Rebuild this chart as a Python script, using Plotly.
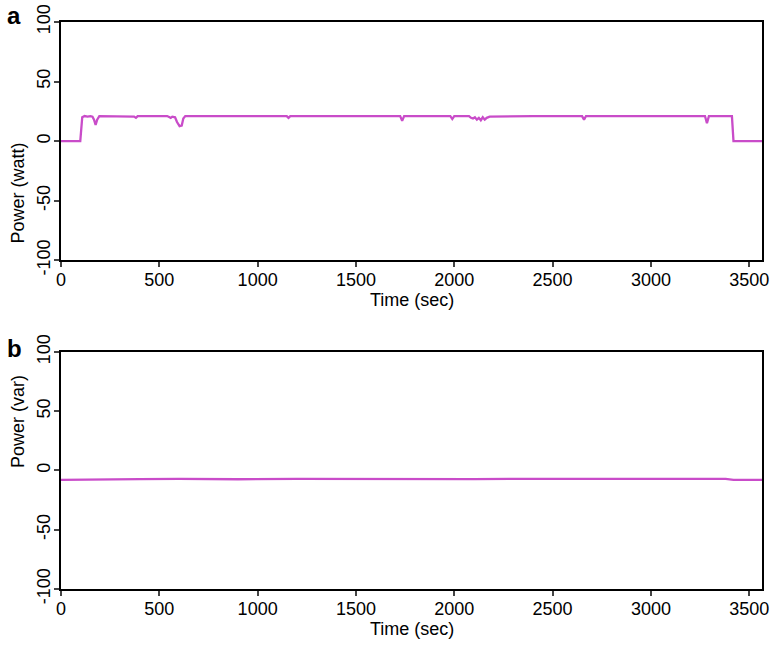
import plotly.graph_objects as go

# Panel a: active power (watt)
time_a = [0, 98, 108, 120, 135, 150, 160, 168, 176, 184, 195, 300, 372, 381, 390,
          540, 550, 558, 566, 580, 590, 603, 614, 622, 632, 800, 1000, 1148, 1157, 1166,
          1400, 1725, 1735, 1745, 1980, 1990, 2000, 2075, 2085, 2095, 2105, 2115, 2125,
          2135, 2145, 2155, 2165, 2180, 2400, 2650, 2660, 2670, 3000, 3275, 3285, 3295,
          3412, 3420, 3565]
power_a = [0, 0, 20, 21, 20.5, 21, 20.5, 18, 13.5, 18, 21, 21, 20.5, 19.5, 21,
           21, 20, 19.5, 20.5, 20, 16, 12.5, 13, 19, 21, 21, 21, 21, 19.5, 21,
           21, 21, 17, 21, 21, 18.5, 21, 21, 19.5, 19, 20, 18, 19.5,
           17.5, 20, 18, 19.5, 20.5, 21, 21, 18, 21, 21, 21, 15, 21,
           21, 0, 0]

# Panel b: reactive power (var)
time_b = [0, 60, 150, 400, 600, 900, 1200, 1500, 1800, 2100, 2400, 2700, 3000, 3300, 3380, 3420, 3565]
power_b = [-8, -7.8, -7.4, -7.2, -7.0, -7.4, -7.1, -7.3, -7.0, -7.2, -7.0, -7.2, -7.0, -7.1, -7.0, -7.9, -8]

x_ticks = [0, 500, 1000, 1500, 2000, 2500, 3000, 3500]
y_ticks = [-100, -50, 0, 50, 100]
y_ticktext = ["-100", "-50", "0", "50", "100"]
x_range = [0, 3565]
y_range = [-100, 100]

color = "#c94cc9"
family = "Liberation Sans, Arial, sans-serif"
font = dict(family=family, size=18, color="black")

fig = go.Figure()
fig.add_trace(go.Scatter(x=time_a, y=power_a, mode="lines",
                         line=dict(color=color, width=2.3), xaxis="x", yaxis="y"))
fig.add_trace(go.Scatter(x=time_b, y=power_b, mode="lines",
                         line=dict(color=color, width=2.3), xaxis="x2", yaxis="y2"))

xcommon = dict(range=x_range, tickvals=x_ticks, ticks="outside", ticklen=5, tickwidth=2,
               showline=True, linewidth=2, linecolor="black", mirror=True,
               showgrid=False, zeroline=False, tickfont=font, automargin=False,
               ticklabelstandoff=-3, ticklabeloverflow="allow")
ycommon = dict(range=y_range, tickvals=y_ticks, ticktext=y_ticktext, ticks="outside",
               ticklen=5, tickwidth=2,
               showline=True, linewidth=2, linecolor="black", mirror=True,
               showgrid=False, zeroline=False, tickfont=font, tickangle=-90, automargin=False,
               ticklabelstandoff=-3, ticklabeloverflow="allow")

fig.update_layout(
    width=776, height=647,
    margin=dict(l=61, r=14, t=22, b=58, autoexpand=False),
    paper_bgcolor="white", plot_bgcolor="white",
    showlegend=False,
    font=font,
    xaxis=dict(domain=[0, 1], anchor="y", **xcommon),
    yaxis=dict(domain=[0.58, 1], anchor="x", **ycommon),
    xaxis2=dict(domain=[0, 1], anchor="y2", **xcommon),
    yaxis2=dict(domain=[0, 0.418], anchor="x2", **ycommon),
)

# axis titles
for ybase in (0.58, 0.0):
    fig.add_annotation(text="Time (sec)", xref="paper", yref="paper", x=0.5, y=ybase,
                       yshift=-40, showarrow=False, font=font, yanchor="middle")
fig.add_annotation(text="Power (watt)", xref="paper", yref="paper", x=0, y=0.79,
                   xshift=-43, showarrow=False, font=font, textangle=-90, xanchor="center")
fig.add_annotation(text="Power (var)", xref="paper", yref="paper", x=0, y=0.209,
                   xshift=-43, showarrow=False, font=font, textangle=-90, xanchor="center")
# panel letters
fig.add_annotation(text="<b>a</b>", xref="paper", yref="paper", x=0, y=1, xshift=-47, yshift=7,
                   xanchor="center", yanchor="middle",
                   showarrow=False, font=dict(family=family, size=24, color="black"))
fig.add_annotation(text="<b>b</b>", xref="paper", yref="paper", x=0, y=0.418, xshift=-47, yshift=3,
                   xanchor="center", yanchor="middle",
                   showarrow=False, font=dict(family=family, size=24, color="black"))

fig.write_html("out.html", config={"displayModeBar": False},
               post_script="document.body.style.margin='0px';")
